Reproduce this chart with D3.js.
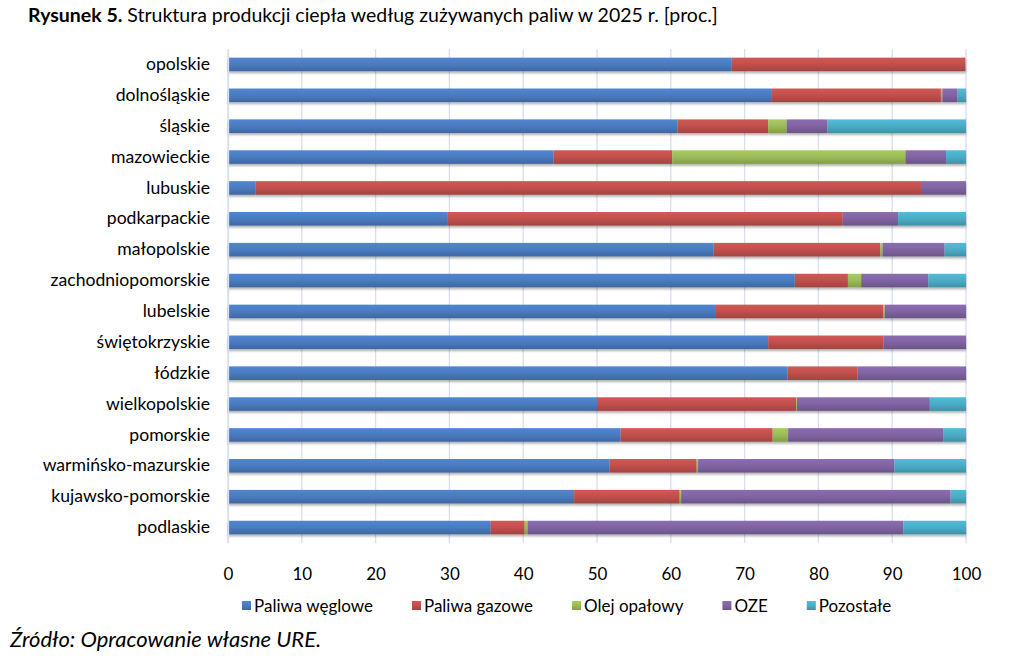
<!DOCTYPE html>
<html>
<head>
<meta charset="utf-8">
<script src="https://cdn.jsdelivr.net/npm/d3@7"></script>
<style>
  body { margin: 0; background: #fff; }
  svg { font-family: Lato, "Open Sans", sans-serif; }
</style>
</head>
<body>
<svg id="chart" width="1024" height="662"></svg>
<script>
const regions = ["opolskie", "dolnośląskie", "śląskie", "mazowieckie", "lubuskie", "podkarpackie",
    "małopolskie", "zachodniopomorskie", "lubelskie", "świętokrzyskie", "łódzkie", "wielkopolskie",
    "pomorskie", "warmińsko-mazurskie", "kujawsko-pomorskie", "podlaskie"]
const seriesNames = ["Paliwa węglowe", "Paliwa gazowe", "Olej opałowy", "OZE", "Pozostałe"]

// shares in %
const wegiel  = [68.2, 73.7, 60.9, 44.1,  3.7, 29.7, 65.8, 76.8, 66.0, 73.2, 75.8, 50.0, 53.2, 51.7, 46.9, 35.6]
const gaz     = [31.7, 22.9, 12.3, 16.1, 90.2, 53.6, 22.6,  7.2, 22.8, 15.6,  9.5, 27.0, 20.6, 11.8, 14.3,  4.6]
const olej    = [ 0.1,  0.2,  2.5, 31.6,  0.0,  0.0,  0.3,  1.8,  0.2,  0.0,  0.0,  0.1,  2.1,  0.2,  0.2,  0.4]
const oze     = [ 0.0,  2.0,  5.5,  5.5,  6.1,  7.5,  8.4,  9.1, 11.0, 11.2, 14.7, 18.0, 21.0, 26.6, 36.5, 50.9]
const pozost  = [ 0.0,  1.2, 18.8,  2.7,  0.0,  9.2,  2.9,  5.1,  0.0,  0.0,  0.0,  4.9,  3.1,  9.7,  2.1,  8.5]
const xTicks  = [0, 10, 20, 30, 40, 50, 60, 70, 80, 90, 100]

const colors = ["#4A7BBF", "#C0504D", "#9BBB59", "#8064A2", "#4BACC6"]

const rows = regions.map((r, i) => ({
    region: r,
    "Paliwa węglowe": wegiel[i],
    "Paliwa gazowe": gaz[i],
    "Olej opałowy": olej[i],
    "OZE": oze[i],
    "Pozostałe": pozost[i],
}))

const svg = d3.select("#chart")
const margin = { left: 228, right: 58, top: 49, bottom: 119 }
const W = 1024 - margin.left - margin.right
const H = 662 - margin.top - margin.bottom

const x = d3.scaleLinear().domain([0, 100]).range([0, W])
const y = d3.scaleBand().domain(regions).range([0, H]).paddingInner(0.56).paddingOuter(0.28)

// gradients, Excel-like shading
const defs = svg.append("defs")
seriesNames.forEach((s, i) => {
    const c = d3.color(colors[i])
    const g = defs.append("linearGradient").attr("id", "g" + i)
        .attr("x1", 0).attr("y1", 0).attr("x2", 0).attr("y2", 1)
    g.append("stop").attr("offset", "0%").attr("stop-color", c.brighter(0.25))
    g.append("stop").attr("offset", "50%").attr("stop-color", c)
    g.append("stop").attr("offset", "100%").attr("stop-color", c.darker(0.5))
})
const f = defs.append("filter").attr("id", "shadow").attr("x", "-5%").attr("y", "-30%").attr("width", "110%").attr("height", "180%")
f.append("feDropShadow").attr("dx", 0).attr("dy", 2).attr("stdDeviation", 1.2).attr("flood-color", "#000").attr("flood-opacity", 0.3)

// title
const title = svg.append("text").attr("x", 28).attr("y", 22).attr("font-size", 19.5).attr("fill", "#000")
title.append("tspan").attr("font-weight", "bold").text("Rysunek 5.")
title.append("tspan").text(" Struktura produkcji ciepła według zużywanych paliw w 2025 r. [proc.]")

const g = svg.append("g").attr("transform", `translate(${margin.left},${margin.top})`)

// grid
g.append("g").selectAll("line").data(xTicks).join("line")
    .attr("x1", d => x(d)).attr("x2", d => x(d))
    .attr("y1", 0).attr("y2", H)
    .attr("stroke", "#d5dff0").attr("stroke-width", 1.3)

// bars
const stack = d3.stack().keys(seriesNames)(rows)
g.append("g").attr("filter", "url(#shadow)")
    .selectAll("g").data(stack).join("g")
    .attr("fill", (d, i) => `url(#g${i})`)
    .selectAll("rect").data(d => d).join("rect")
    .attr("x", d => x(d[0]))
    .attr("width", d => Math.max(0, x(d[1]) - x(d[0])))
    .attr("y", d => y(d.data.region))
    .attr("height", y.bandwidth())

// y labels
const yAxis = g.append("g").call(d3.axisLeft(y).tickSize(0).tickPadding(18))
yAxis.select(".domain").attr("stroke", "#d5dff0").attr("stroke-width", 1.3)
yAxis.selectAll("text").attr("font-size", 17.6).attr("fill", "#000").attr("font-family", "Lato, sans-serif")

// x labels
const xAxis = g.append("g").attr("transform", `translate(0,${H})`)
    .call(d3.axisBottom(x).tickValues(xTicks).tickSize(0).tickPadding(25))
xAxis.select(".domain").remove()
xAxis.selectAll("text").attr("font-size", 17).attr("fill", "#000").attr("font-family", "Lato, sans-serif")

// legend
const legend = svg.append("g").attr("transform", "translate(242,606)")
let lx = 0
seriesNames.forEach((s, i) => {
    const item = legend.append("g").attr("transform", `translate(${lx},0)`)
    item.append("rect").attr("x", 0).attr("y", -5).attr("width", 9).attr("height", 9).attr("fill", `url(#g${i})`)
    const t = item.append("text").attr("x", 12).attr("y", 6).attr("font-size", 17).text(s)
    lx += 12 + t.node().getComputedTextLength() + 39
})

// source
svg.append("text").attr("x", 10).attr("y", 647).attr("font-size", 22).attr("font-style", "italic")
    .text("Źródło: Opracowanie własne URE.")
</script>
</body>
</html>
